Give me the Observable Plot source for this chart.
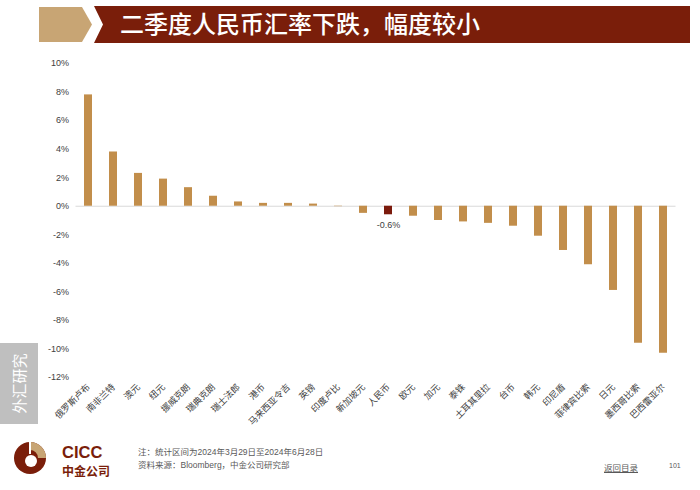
<!DOCTYPE html>
<html><head><meta charset="utf-8">
<script src="https://cdn.jsdelivr.net/npm/d3@7"></script>
<script src="https://cdn.jsdelivr.net/npm/@observablehq/plot@0.6"></script>
<style>
body{margin:0;background:#fff;}
#page{position:relative;width:700px;height:490px;overflow:hidden;background:#fff;font-family:"Liberation Sans","Noto Sans CJK SC",sans-serif;}
#chart{position:absolute;left:0;top:50px;}
.abs{position:absolute;}
</style></head>
<body>
<div id="page">
  <svg class="abs" style="left:0;top:0" width="700" height="50">
    <polygon points="39,7 82,7 92,24.5 82,42 39,42" fill="#c8a574"/>
    <polygon points="94,6 690,6 690,43 94,43 103,24.5" fill="#7a1e0a"/>
    <text x="120" y="33" fill="#fff" font-size="24" font-family="Noto Sans CJK SC" font-weight="500">二季度人民币汇率下跌，幅度较小</text>
  </svg>
  <div class="abs" style="left:0;top:343px;width:38px;height:81px;background:#bfbfbf;"></div>
  <svg class="abs" style="left:0;top:343px" width="38" height="81">
    <text transform="translate(25,40.5) rotate(-90)" text-anchor="middle" fill="#fff" font-size="15" font-family="Noto Sans CJK SC">外汇研究</text>
  </svg>
  <div id="chart"></div>
  <svg class="abs" style="left:0;top:436px" width="130" height="45">
    <circle cx="30" cy="22" r="16" fill="#7a1e0a"/>
    <path d="M30,6 A16,16 0 0 1 46,22 L38,22 A8,8 0 0 0 30,14 Z" fill="#c8a574"/>
    <circle cx="31" cy="25" r="6" fill="#fff"/>
    <rect x="29" y="6" width="2" height="12" fill="#fff"/>
    <text x="62" y="22" fill="#7a1e0a" font-size="16.5" font-weight="bold" font-family="Liberation Sans">CICC</text>
    <text x="62" y="40" fill="#7a1e0a" font-size="12" font-weight="bold" font-family="Noto Sans CJK SC">中金公司</text>
  </svg>
  <div class="abs" style="left:138px;top:446px;font-size:8.5px;color:#595959;line-height:13px;">注：统计区间为2024年3月29日至2024年6月28日<br>资料来源：Bloomberg，中金公司研究部</div>
  <div class="abs" style="left:604px;top:461px;font-size:8.5px;color:#595959;text-decoration:underline;">返回目录</div>
  <div class="abs" style="left:669px;top:462px;font-size:7px;color:#595959;">101</div>
</div>
<script>
const currencies = ["俄罗斯卢布","南非兰特","澳元","纽元","挪威克朗","瑞典克朗","瑞士法郎","港币","马来西亚令吉","英镑","印度卢比","新加坡元","人民币","欧元","加元","泰铢","土耳其里拉","台币","韩元","印尼盾","菲律宾比索","日元","墨西哥比索","巴西雷亚尔"];
const changes = [7.8,3.8,2.3,1.9,1.3,0.7,0.3,0.2,0.2,0.15,-0.03,-0.5,-0.6,-0.7,-1.0,-1.1,-1.2,-1.4,-2.1,-3.1,-4.1,-5.9,-9.6,-10.3];
const highlight = "人民币";
const yTicks = [10,8,6,4,2,0,-2,-4,-6,-8,-10,-12];

const data = currencies.map((name,i)=>({name, value: changes[i]}));
const others = data.filter(d=>d.name!==highlight);
const hl = data.filter(d=>d.name===highlight);

const chart = Plot.plot({
  width:700, height:390,
  marginTop:13, marginBottom:63, marginLeft:75.5, marginRight:24.5,
  style:{fontFamily:'"Liberation Sans","Noto Sans CJK SC",sans-serif', fontSize:"9px", color:"#404040", background:"transparent"},
  x:{domain:currencies, paddingInner:0.68, paddingOuter:0.34},
  y:{domain:[-12,10]},
  marks:[
    Plot.axisY({ticks:yTicks, tickFormat:d=>d+"%", tickSize:0, tickPadding:7, label:null, fontSize:9}),
    Plot.axisX({tickSize:0, tickPadding:8, tickRotate:-45, label:null, fontSize:9}),
    Plot.ruleY([0],{stroke:"#d9d9d9"}),
    Plot.barY(others,{x:"name", y:"value", fill:"#c28e4b"}),
    Plot.barY(hl,{x:"name", y:"value", fill:"#7b1a0c"}),
    Plot.text(hl,{x:"name", y:"value", text:d=>d.value.toFixed(1)+"%", dy:10, fill:"#404040", fontSize:9})
  ]
});
document.getElementById("chart").appendChild(chart);
</script>
</body></html>
